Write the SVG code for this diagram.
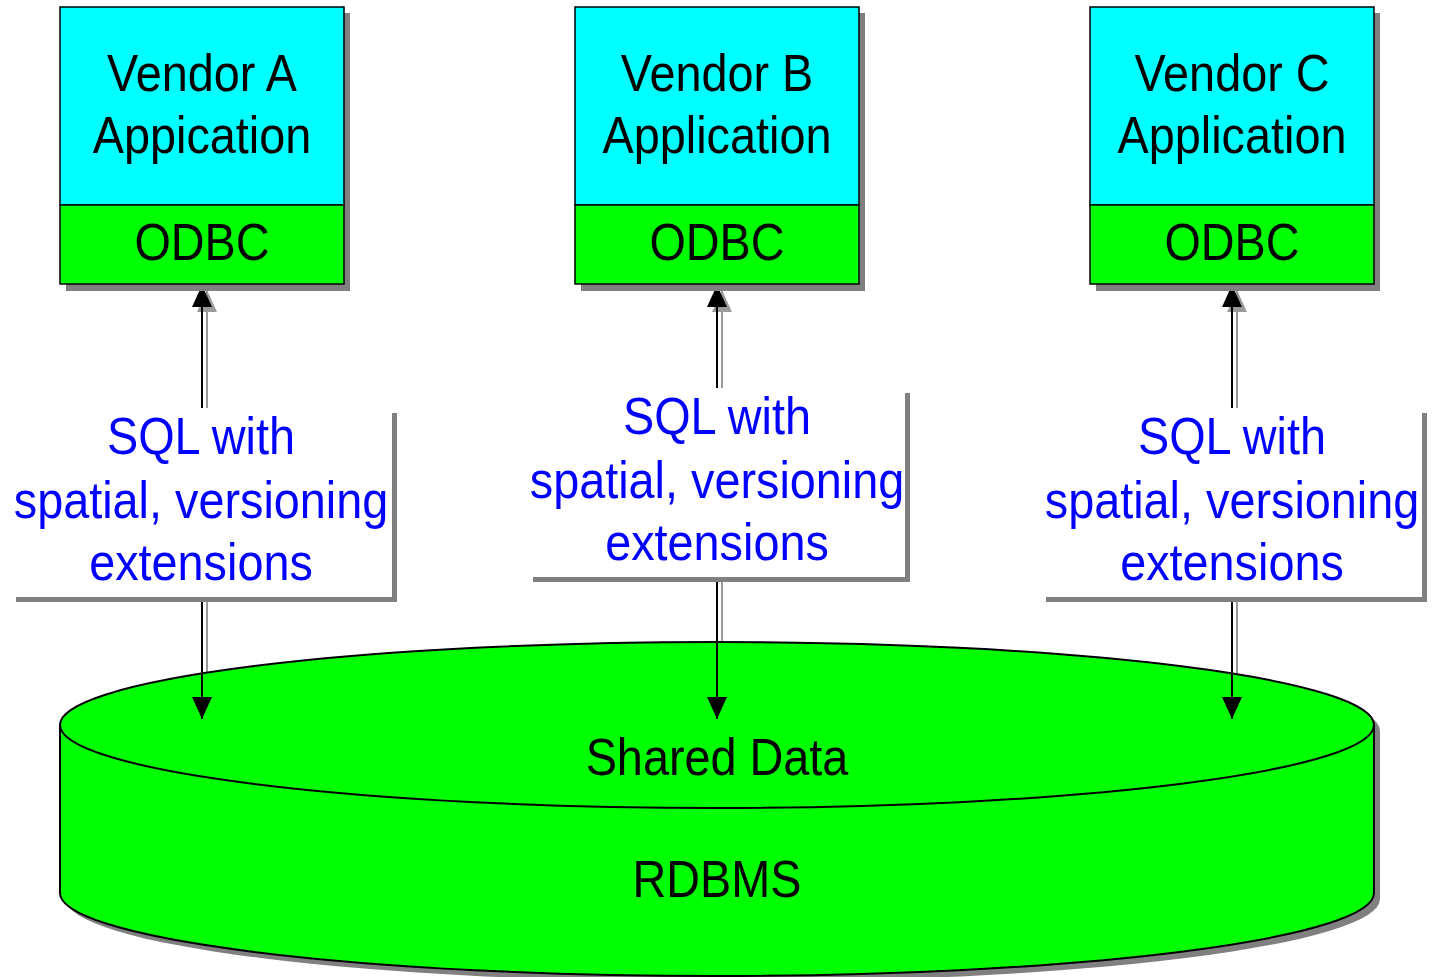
<svg xmlns="http://www.w3.org/2000/svg" width="1433" height="977" viewBox="0 0 1433 977">
<style>
.sh{fill:#808080}
.app{fill:#00ffff;stroke:#000;stroke-width:1.5}
.odbc{fill:#00ff00;stroke:#000;stroke-width:1.5}
.lbl{fill:#fff}
.t{font-family:"Liberation Sans",Arial,sans-serif;font-size:52px;text-anchor:middle;fill:#000}
.b{font-family:"Liberation Sans",Arial,sans-serif;font-size:52px;text-anchor:middle;fill:#0000ff}
.ln{stroke:#000;stroke-width:2;fill:none}
.lns{stroke:#9a9a9a;stroke-width:2;fill:none}
</style>
<defs>
<marker id="ah" markerUnits="userSpaceOnUse" markerWidth="22" markerHeight="22" refX="22" refY="10" orient="auto-start-reverse" viewBox="0 0 22 20">
<path d="M0,0 L22,10 L0,20 Z" fill="#000"/>
</marker>
<marker id="ahs" markerUnits="userSpaceOnUse" markerWidth="22" markerHeight="22" refX="22" refY="10" orient="auto-start-reverse" viewBox="0 0 22 20">
<path d="M0,0 L22,10 L0,20 Z" fill="#9a9a9a"/>
</marker>
</defs>

<g id="connector-shadows">
<line class="lns" x1="207" y1="290" x2="207" y2="722" marker-start="url(#ahs)"/>
<line class="lns" x1="722" y1="290" x2="722" y2="722" marker-start="url(#ahs)"/>
<line class="lns" x1="1237" y1="290" x2="1237" y2="722" marker-start="url(#ahs)"/>
</g>

<g id="rdbms">
<path class="sh" d="M66,731 A657,83 0 0 1 1380,731 L1380,899 A657,83 0 0 1 66,899 Z"/>
<path d="M60,725 A657,83 0 0 1 1374,725 L1374,893 A657,83 0 0 1 60,893 Z" fill="#00ff00" stroke="#000" stroke-width="2"/>
<path d="M60,725 A657,83 0 0 0 1374,725" fill="none" stroke="#000" stroke-width="2"/>
<text class="t" transform="translate(717,775) scale(0.9,1)">Shared Data</text>
<text class="t" transform="translate(717,897) scale(0.9,1)">RDBMS</text>
</g>

<g id="connectors">
<line class="ln" x1="202" y1="285" x2="202" y2="719" marker-start="url(#ah)" marker-end="url(#ah)"/>
<line class="ln" x1="717" y1="285" x2="717" y2="719" marker-start="url(#ah)" marker-end="url(#ah)"/>
<line class="ln" x1="1232" y1="285" x2="1232" y2="719" marker-start="url(#ah)" marker-end="url(#ah)"/>
</g>

<g id="label-a">
<rect class="sh" x="16" y="413" width="381" height="189"/>
<rect class="lbl" x="11" y="408" width="381" height="189"/>
<text class="b" transform="translate(201,454) scale(0.9,1)">SQL with</text>
<text class="b" transform="translate(201,518) scale(0.9,1)">spatial, versioning</text>
<text class="b" transform="translate(201,580) scale(0.9,1)">extensions</text>
</g>
<g id="label-b">
<rect class="sh" x="533" y="393" width="377" height="189"/>
<rect class="lbl" x="528" y="388" width="377" height="189"/>
<text class="b" transform="translate(717,434) scale(0.9,1)">SQL with</text>
<text class="b" transform="translate(717,498) scale(0.9,1)">spatial, versioning</text>
<text class="b" transform="translate(717,560) scale(0.9,1)">extensions</text>
</g>
<g id="label-c">
<rect class="sh" x="1046" y="413" width="381" height="189"/>
<rect class="lbl" x="1041" y="408" width="381" height="189"/>
<text class="b" transform="translate(1232,454) scale(0.9,1)">SQL with</text>
<text class="b" transform="translate(1232,518) scale(0.9,1)">spatial, versioning</text>
<text class="b" transform="translate(1232,580) scale(0.9,1)">extensions</text>
</g>

<g id="vendor-a">
<rect class="sh" x="66" y="13" width="284" height="278"/>
<rect class="app" x="60" y="7" width="284" height="198"/>
<rect class="odbc" x="60" y="205" width="284" height="79"/>
<text class="t" transform="translate(202,91) scale(0.9,1)">Vendor A</text>
<text class="t" transform="translate(202,153) scale(0.9,1)">Appication</text>
<text class="t" transform="translate(202,260) scale(0.9,1)">ODBC</text>
</g>
<g id="vendor-b">
<rect class="sh" x="581" y="13" width="284" height="278"/>
<rect class="app" x="575" y="7" width="284" height="198"/>
<rect class="odbc" x="575" y="205" width="284" height="79"/>
<text class="t" transform="translate(717,91) scale(0.9,1)">Vendor B</text>
<text class="t" transform="translate(717,153) scale(0.9,1)">Application</text>
<text class="t" transform="translate(717,260) scale(0.9,1)">ODBC</text>
</g>
<g id="vendor-c">
<rect class="sh" x="1096" y="13" width="284" height="278"/>
<rect class="app" x="1090" y="7" width="284" height="198"/>
<rect class="odbc" x="1090" y="205" width="284" height="79"/>
<text class="t" transform="translate(1232,91) scale(0.9,1)">Vendor C</text>
<text class="t" transform="translate(1232,153) scale(0.9,1)">Application</text>
<text class="t" transform="translate(1232,260) scale(0.9,1)">ODBC</text>
</g>
</svg>
